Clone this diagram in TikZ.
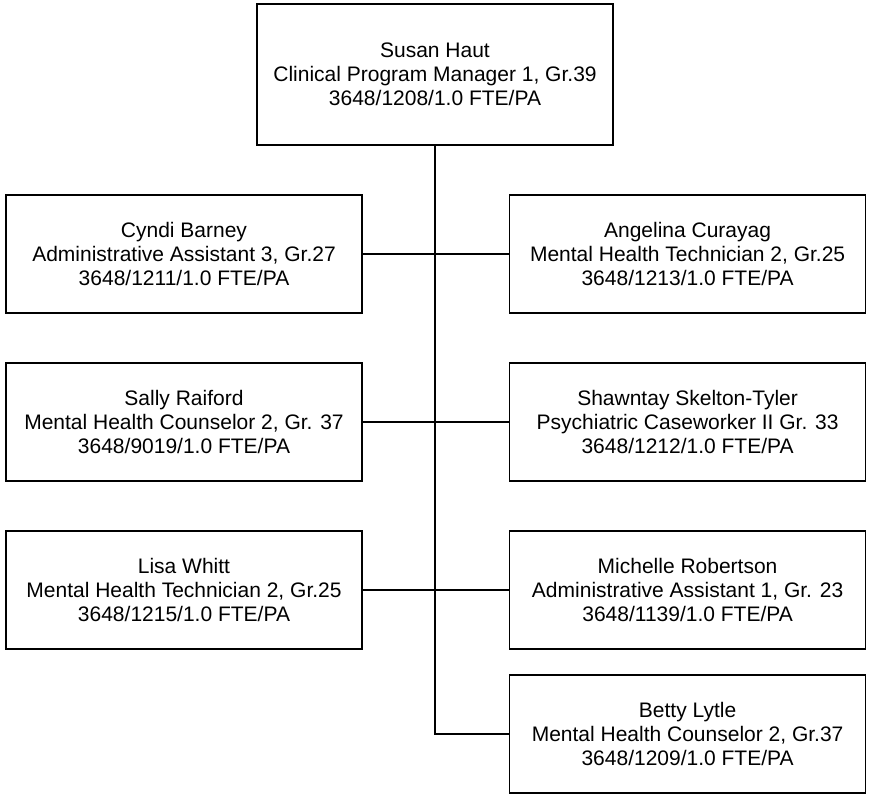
\documentclass[tikz,border=0pt]{standalone}
\usepackage{fontspec}
\setmainfont{Liberation Sans}
\usetikzlibrary{positioning}

\tikzset{
  post/.style={draw, line width=1.6pt, align=center, inner sep=0pt,
    minimum width=356pt, minimum height=118.4pt,
    font=\fontsize{21}{24}\selectfont},
  link/.style={line width=1.6pt}
}

\begin{document}
\begin{tikzpicture}[x=1pt,y=-1pt]
\useasboundingbox (0,0) rectangle (871,796);

\node[post, minimum height=141.4pt] (MGR) at (435,74.5)
  {Susan Haut\\Clinical Program Manager 1, Gr.39\\3648/1208/1.0 FTE/PA};

\node[post, below=48pt of MGR, xshift=-251pt] (L1)
  {Cyndi Barney\\Administrative Assistant 3, Gr.27\\3648/1211/1.0 FTE/PA};
\node[post, below=48pt of L1] (L2)
  {Sally Raiford\\Mental Health Counselor 2, Gr. 37\\3648/9019/1.0 FTE/PA};
\node[post, below=48pt of L2] (L3)
  {Lisa Whitt\\Mental Health Technician 2, Gr.25\\3648/1215/1.0 FTE/PA};

\node[post, right=146pt of L1] (R1)
  {Angelina Curayag\\Mental Health Technician 2, Gr.25\\3648/1213/1.0 FTE/PA};
\node[post, below=48pt of R1] (R2)
  {Shawntay Skelton-Tyler\\Psychiatric Caseworker II Gr. 33\\3648/1212/1.0 FTE/PA};
\node[post, below=48pt of R2] (R3)
  {Michelle Robertson\\Administrative Assistant 1, Gr. 23\\3648/1139/1.0 FTE/PA};
\node[post, below=24pt of R3] (R4)
  {Betty Lytle\\Mental Health Counselor 2, Gr.37\\3648/1209/1.0 FTE/PA};

% spine and branches
\draw[link] (MGR.south) |- (R4.west);
\draw[link] (L1.east) -- (R1.west);
\draw[link] (L2.east) -- (R2.west);
\draw[link] (L3.east) -- (R3.west);

\end{tikzpicture}
\end{document}
